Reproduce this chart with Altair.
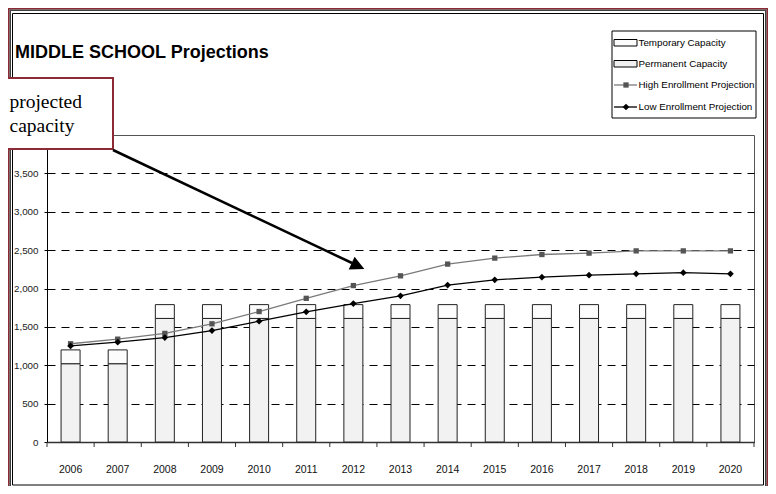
import altair as alt
import pandas as pd

years = ["2006", "2007", "2008", "2009", "2010", "2011", "2012", "2013",
         "2014", "2015", "2016", "2017", "2018", "2019", "2020"]
permanent = [1020, 1020, 1610, 1610, 1610, 1610, 1610, 1610,
             1610, 1610, 1610, 1610, 1610, 1610, 1610]
temporary = [180, 180, 180, 180, 180, 180, 180, 180,
             180, 180, 180, 180, 180, 180, 180]
high = [1280, 1340, 1415, 1540, 1700, 1872, 2038, 2165,
        2318, 2396, 2443, 2461, 2490, 2490, 2490]
low = [1252, 1300, 1361, 1452, 1574, 1696, 1804, 1904,
       2044, 2113, 2148, 2174, 2191, 2206, 2191]
y_ticks = [0, 500, 1000, 1500, 2000, 2500, 3000, 3500]

legend_labels = ["Temporary Capacity", "Permanent Capacity",
                 "High Enrollment Projection", "Low Enrollment Projection"]
title_text = "MIDDLE SCHOOL Projections"
callout_lines = ["projected", "capacity"]

df = pd.DataFrame({"year": years, "permanent": permanent,
                   "temporary": temporary, "high": high, "low": low})
df["total"] = df["permanent"] + df["temporary"]

W, H = 707, 307
OX, OY = 47, 135  # page position of plot origin
SANS = "Liberation Sans, Arial, sans-serif"
SERIF = "Liberation Serif, Times New Roman, serif"
MAROON = "#8c2a35"


def px(v):
    return alt.value(v - OX)


def py(v):
    return alt.value(v - OY)


xscale = alt.Scale(paddingInner=0, paddingOuter=0)
xaxis = alt.Axis(title=None, labelAngle=0, ticks=False, tickSize=0, grid=False,
                 domainColor="#333", domainWidth=1.5, labelFont=SANS,
                 labelFontSize=10.5, labelColor="#111", labelPadding=22)
yscale = alt.Scale(domain=[0, 4000], nice=False)
yaxis = alt.Axis(title=None, values=y_ticks, format=",.0f", grid=True,
                 gridDash=[8, 6], gridColor="#000", gridWidth=1,
                 domainColor="#000", domainWidth=1, tickColor="#000", tickSize=3,
                 labelPadding=6, labelFont=SANS, labelFontSize=9.8,
                 labelColor="#222")


def X():
    return alt.X("year:O", scale=xscale, axis=xaxis)


def Y(f):
    return alt.Y(f, scale=yscale, axis=yaxis)


base = alt.Chart(df)
perm_bar = base.mark_bar(width=19, fill="#f2f2f2", stroke="#222", strokeWidth=1).encode(
    x=X(), y=Y("permanent:Q"))
temp_bar = base.mark_bar(width=19, fill="#fcfcfc", stroke="#222", strokeWidth=1).encode(
    x=X(), y=Y("permanent:Q"), y2="total:Q")
high_line = base.mark_line(color="#7a7a7a", strokeWidth=1.3).encode(x=X(), y=Y("high:Q"))
high_pts = base.mark_point(shape="square", filled=True, size=28, color="#555", opacity=1).encode(
    x=X(), y=Y("high:Q"))
low_line = base.mark_line(color="#000", strokeWidth=1.3).encode(x=X(), y=Y("low:Q"))
low_pts = base.mark_point(shape="diamond", filled=True, size=45, color="#000", opacity=1).encode(
    x=X(), y=Y("low:Q"))
xticks = base.mark_rule(color="#333", strokeWidth=1).encode(
    x=alt.X("year:O", bandPosition=0, scale=xscale, axis=xaxis),
    y=alt.value(H), y2=alt.value(H + 5))

one = pd.DataFrame({"k": [0]})


def rect(x1, y1, x2, y2, **kw):
    return alt.Chart(one).mark_rect(**kw).encode(x=px(x1), x2=px(x2), y=py(y1), y2=py(y2))


def rule(x1, y1, x2, y2, **kw):
    return alt.Chart(one).mark_rule(**kw).encode(x=px(x1), x2=px(x2), y=py(y1), y2=py(y2))


def text(t, x, y, **kw):
    return alt.Chart(pd.DataFrame({"t": [t]})).mark_text(**kw).encode(
        x=px(x), y=py(y), text="t:N")


def point(x, y, **kw):
    return alt.Chart(one).mark_point(**kw).encode(x=px(x), y=py(y))


right_tick = rule(754, 442, 754, 447, color="#333", strokeWidth=1)

frames = [
    rect(8.75, 8.75, 767.25, 520, fill="transparent", stroke=MAROON, strokeWidth=1.5),
    rect(10.25, 10.25, 765.75, 520, fill="transparent", stroke="#404040", strokeWidth=1.5),
    rect(12.5, 13.5, 763.5, 485, fill="transparent", stroke="#000", strokeWidth=1),
]

title = text(title_text, 15, 57.5, align="left", baseline="alphabetic",
             font=SANS, fontSize=18, fontWeight="bold", color="#000")

legend = [
    rect(612, 31, 756, 118, fill="#fff", stroke="#000", strokeWidth=1),
    rect(614, 39.5, 637, 46, fill="#fcfcfc", stroke="#000", strokeWidth=1),
    rect(614, 60.5, 637, 67, fill="#f0f0f0", stroke="#000", strokeWidth=1),
    rule(614, 85, 637, 85, color="#7a7a7a", strokeWidth=1.3),
    point(626, 85, shape="square", filled=True, size=28, color="#555", opacity=1),
    rule(614, 107, 637, 107, color="#000", strokeWidth=1.3),
    point(626, 107, shape="diamond", filled=True, size=45, color="#000", opacity=1),
]
for lbl, yy in zip(legend_labels, [42.5, 63.5, 85, 107]):
    legend.append(text(lbl, 638.5, yy, align="left", baseline="middle",
                       font=SANS, fontSize=9.8, color="#000"))

callout = [
    rect(-30, 78, 113, 149, fill="#fff", stroke=MAROON, strokeWidth=2),
    text(callout_lines[0], 82, 108, align="right", baseline="alphabetic",
         font=SERIF, fontSize=19.5, color="#000"),
    text(callout_lines[1], 9.5, 132, align="left", baseline="alphabetic",
         font=SERIF, fontSize=19.5, color="#000"),
    rule(113, 150, 352, 263, color="#000", strokeWidth=2.5),
    point(358, 266, shape="M1,0L-1,-1L-1,1Z", size=196, angle=25, filled=True,
          color="#000", opacity=1),
]

chart = alt.layer(
    *frames, perm_bar, temp_bar, high_line, high_pts, low_line, low_pts,
    xticks, right_tick, title, *legend, *callout
).properties(
    width=W, height=H,
    padding={"left": 39, "top": 127, "right": 14, "bottom": 44},
    autosize=alt.AutoSizeParams(type="none"),
    background="#ffffff",
).configure_view(stroke="#555", strokeWidth=1)

chart.save("out.html", embed_options={"renderer": "svg", "actions": False})
